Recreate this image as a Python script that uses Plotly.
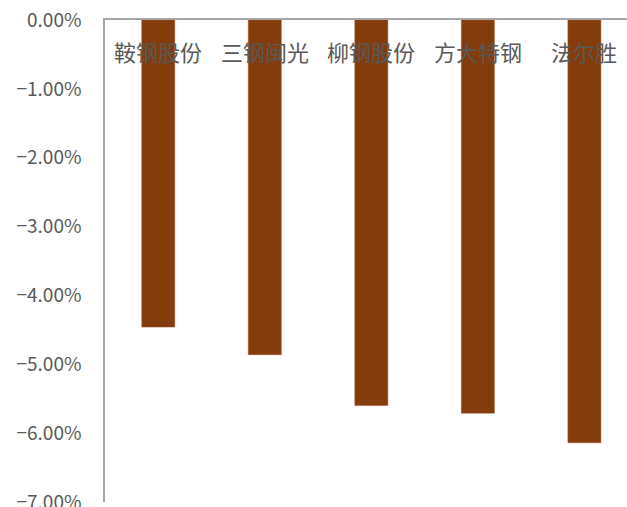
import plotly.graph_objects as go

categories = ["鞍钢股份", "三钢闽光", "柳钢股份", "方大特钢", "法尔胜"]
values = [-4.46, -4.86, -5.60, -5.71, -6.14]  # percent
tick_vals = [0, -1, -2, -3, -4, -5, -6, -7]
tick_text = ["0.00%", "−1.00%", "−2.00%", "−3.00%", "−4.00%", "−5.00%", "−6.00%", "−7.00%"]

fig = go.Figure()
fig.add_trace(go.Bar(
    x=categories, y=values,
    marker=dict(color="#843C0C", line=dict(color="#A0522D", width=0.5)),
    width=0.31,
))

for c in categories:
    fig.add_annotation(
        x=c, y=0, xref="x", yref="y", text=c, showarrow=False,
        yanchor="middle", yshift=-31,
        font=dict(family="Noto Sans CJK SC", size=22, color="#595959"),
    )

fig.update_layout(
    width=627, height=507,
    margin=dict(l=105, r=0, t=20, b=5, autoexpand=False),
    paper_bgcolor="white", plot_bgcolor="white",
    showlegend=False,
    xaxis=dict(
        range=[-0.5, 4.4], side="top", showticklabels=False,
        showline=True, linecolor="#A6A6A6", linewidth=1.5,
        showgrid=False, zeroline=False, ticks="", automargin=False,
    ),
    yaxis=dict(
        range=[-7, 0], tickvals=tick_vals, ticktext=tick_text,
        showline=True, linecolor="#A6A6A6", linewidth=1.5,
        showgrid=False, zeroline=False, ticks="", automargin=False,
        ticklabelstandoff=18, ticklabeloverflow="allow",
        tickfont=dict(family="Noto Sans CJK SC", size=19, color="#595959"),
    ),
)

fig.write_html("out.html")
